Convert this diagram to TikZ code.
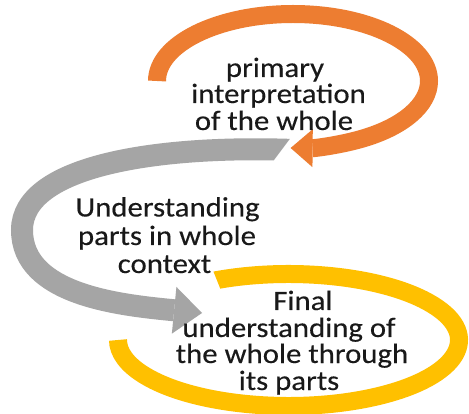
\documentclass[tikz,border=0pt]{standalone}
\usepackage{fontspec}
\setmainfont{Carlito}[FakeStretch=1.1,FakeBold=0.25]
\usetikzlibrary{arrows.meta}
\definecolor{oorange}{HTML}{ED7D31}
\definecolor{ogray}{HTML}{A5A5A5}
\definecolor{oyellow}{HTML}{FFC000}
\begin{document}
\begin{tikzpicture}[x=1pt,y=-1pt,
  lbl/.style={font=\fontsize{28}{27}\selectfont, text=black!90, anchor=base, inner sep=0pt,
    text height=19pt, text depth=6pt},
  band/.style={line width=18pt}]
\useasboundingbox[fill=white] (0,0) rectangle (469,414);
% centres and key points
\coordinate (oc) at (293,81);
\coordinate (yc) at (288.5,340);
\coordinate (gs) at (294,150);
\coordinate (gl) at (22,230);
\coordinate (ge) at (202,313);
% yellow loop (slanted cut at its start)
\begin{scope}
  \clip (184.8,200) -- (469,200) -- (469,414) -- (0,414) -- (0,310) -- (228.8,310) -- cycle;
  \draw[band, oyellow] ([shift={(238:170.5 and 66)}]yc) arc[start angle=238, end angle=540, x radius=170.5, y radius=66];
\end{scope}
% orange loop
\draw[band, oorange, -{Triangle[length=22pt,width=38pt,line width=0pt]}] ([shift={(180:136 and 67)}]oc) arc[start angle=180, end angle=451, x radius=136, y radius=67];
% gray loop (slanted cut at its start)
\begin{scope}
  \clip (0,0) -- (394,0) -- (244,200) -- (244,414) -- (0,414) -- cycle;
  \draw[line width=22pt, ogray, -{Triangle[length=28pt,width=47pt,line width=0pt]}] (gs) .. controls (160,145) and (22,165) .. (gl) .. controls (22,295) and (120,305) .. (ge);
\end{scope}
% texts
\node[lbl] (o1) at (275,77) {primary};
\node[lbl] (o2) at (278.5,103) {interpretation};
\node[lbl] (o3) at (274,130) {of the whole};
\node[lbl] (g1) at (167.5,216.5) {Understanding};
\node[lbl] (g2) at (167,245) {parts in whole};
\node[lbl] (g3) at (164.5,273) {context};
\node[lbl] (y1) at (303,310) {Final};
\node[lbl] (y2) at (289,337) {understanding of};
\node[lbl] (y3) at (292,363) {the whole through};
\node[lbl] (y4) at (289,390) {its parts};
\end{tikzpicture}
\end{document}
